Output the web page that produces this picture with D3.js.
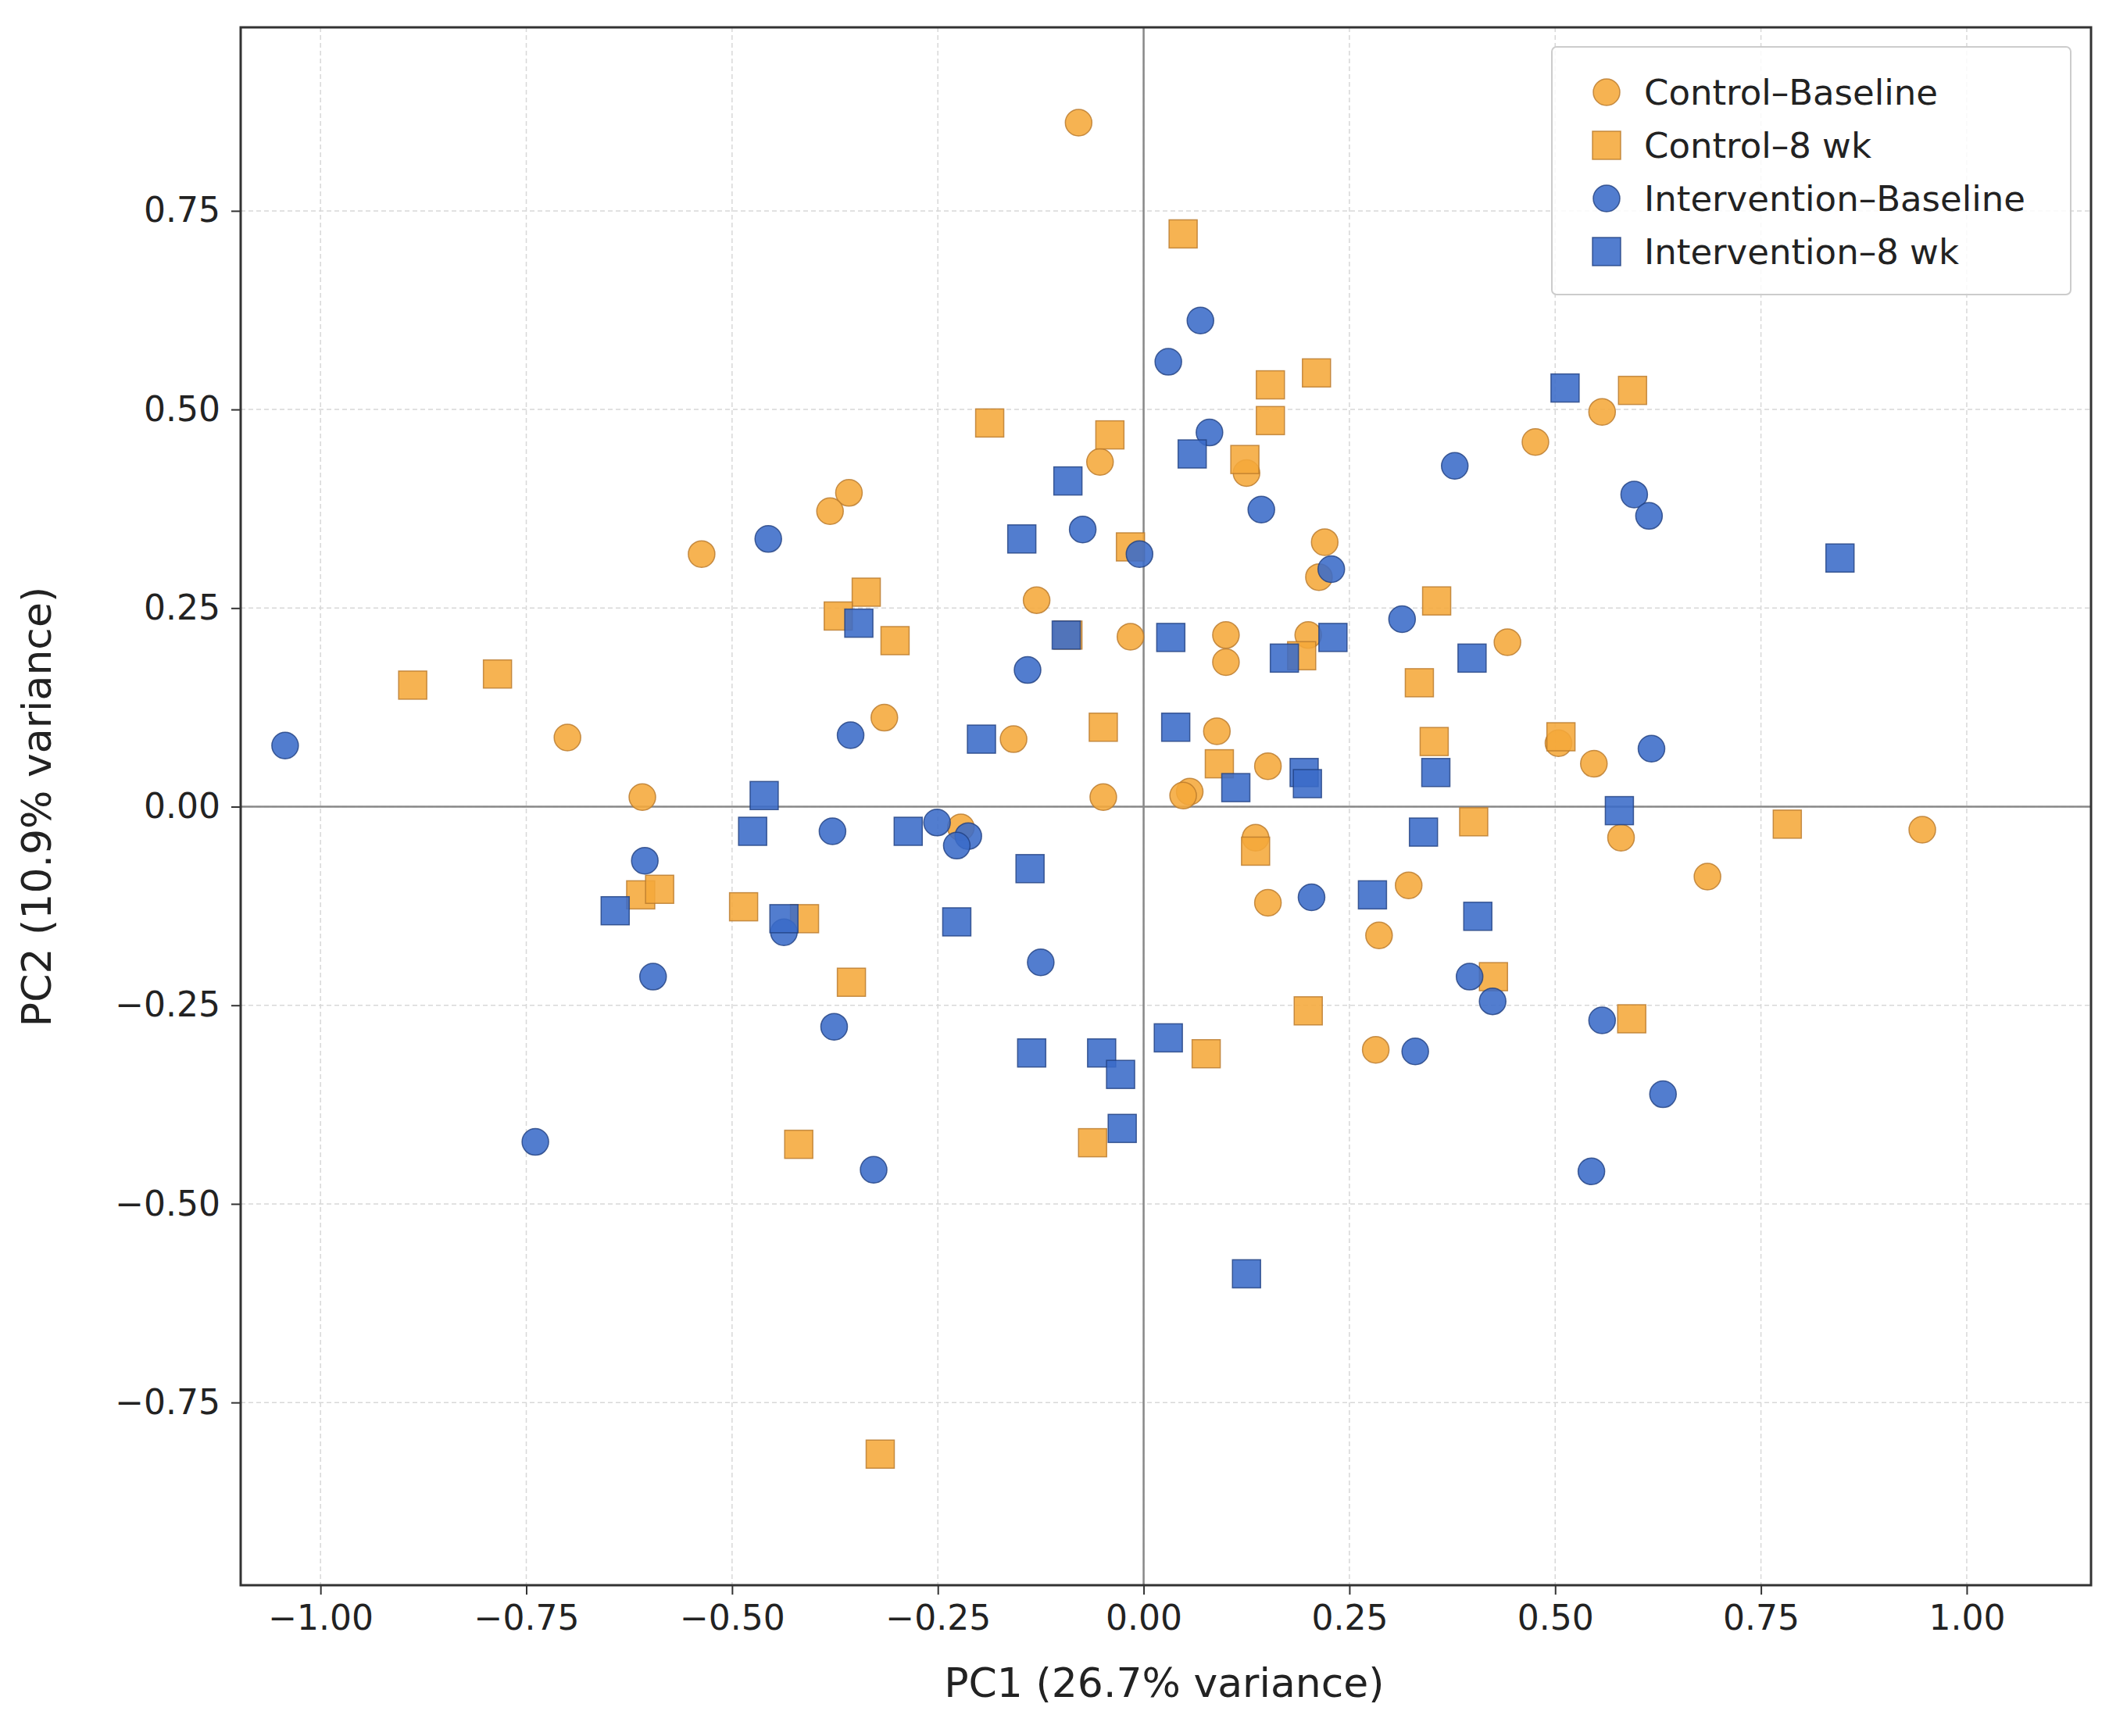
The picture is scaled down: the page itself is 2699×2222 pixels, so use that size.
<!DOCTYPE html>
<html>
<head>
<meta charset="utf-8">
<script src="https://cdn.jsdelivr.net/npm/d3@7"></script>
<style>
  body { margin: 0; background: #fff; }
  text { font-family: "DejaVu Sans", sans-serif; fill: #222; }
</style>
</head>
<body>
<div id="chart"></div>
<script>
// point values: [PC1, PC2]
var controlBaseline = [[-0.079,0.861],[0.557,0.497],[0.476,0.459],[-0.053,0.434],[0.125,0.420],[-0.358,0.395],[-0.381,0.372],[-0.537,0.318],[0.220,0.333],[0.213,0.289],[-0.130,0.260],[-0.016,0.214],[0.100,0.216],[0.200,0.216],[0.442,0.207],[0.100,0.182],[-0.315,0.112],[0.089,0.095],[-0.700,0.087],[-0.158,0.085],[0.504,0.080],[0.547,0.054],[0.151,0.051],[0.056,0.019],[0.048,0.014],[-0.049,0.012],[-0.609,0.012],[0.580,-0.039],[0.136,-0.039],[0.946,-0.029],[0.685,-0.088],[0.322,-0.099],[0.151,-0.121],[0.286,-0.162],[0.282,-0.306],[-0.222,-0.026]];
var control8wk = [[0.048,0.721],[0.210,0.546],[0.154,0.531],[0.594,0.524],[-0.187,0.483],[0.154,0.486],[-0.041,0.468],[0.123,0.437],[-0.016,0.327],[-0.337,0.270],[-0.371,0.240],[-0.302,0.209],[-0.092,0.216],[-0.888,0.153],[-0.785,0.167],[0.335,0.156],[0.356,0.259],[-0.049,0.100],[0.092,0.054],[0.507,0.088],[0.353,0.082],[0.401,-0.019],[0.782,-0.022],[0.136,-0.056],[-0.611,-0.111],[-0.588,-0.104],[-0.486,-0.126],[-0.412,-0.141],[-0.355,-0.221],[0.425,-0.214],[0.200,-0.257],[0.593,-0.267],[0.076,-0.311],[-0.419,-0.425],[-0.062,-0.423],[-0.320,-0.815],[0.192,0.190]];
var interventionBaseline = [[0.069,0.612],[0.030,0.560],[0.080,0.471],[0.378,0.429],[0.596,0.393],[0.614,0.366],[0.143,0.374],[-0.456,0.337],[-0.074,0.349],[-0.005,0.318],[0.228,0.299],[0.314,0.236],[-0.141,0.172],[-0.356,0.090],[0.617,0.073],[-1.043,0.077],[-0.378,-0.031],[-0.606,-0.068],[-0.251,-0.020],[-0.213,-0.037],[-0.227,-0.049],[-0.437,-0.158],[-0.596,-0.214],[-0.125,-0.196],[0.204,-0.114],[0.396,-0.214],[0.424,-0.245],[0.557,-0.269],[-0.376,-0.277],[0.330,-0.308],[0.631,-0.362],[-0.739,-0.422],[-0.328,-0.457],[0.544,-0.459]];
var intervention8wk = [[0.512,0.527],[0.059,0.444],[-0.092,0.410],[-0.148,0.337],[0.846,0.313],[-0.346,0.231],[-0.094,0.216],[0.033,0.213],[0.171,0.187],[0.230,0.213],[0.399,0.187],[-0.197,0.085],[0.039,0.100],[-0.461,0.014],[0.112,0.024],[0.195,0.043],[0.199,0.029],[0.355,0.043],[-0.475,-0.031],[-0.286,-0.031],[0.578,-0.005],[0.340,-0.032],[-0.642,-0.131],[-0.437,-0.141],[-0.138,-0.078],[-0.227,-0.145],[0.278,-0.111],[0.406,-0.138],[-0.136,-0.310],[-0.051,-0.310],[-0.028,-0.337],[0.030,-0.291],[-0.026,-0.405],[0.125,-0.588]];

var xTicks = [-1.00,-0.75,-0.50,-0.25,0.00,0.25,0.50,0.75,1.00];
var yTicks = [-0.75,-0.50,-0.25,0.00,0.25,0.50,0.75];

var groups = [
  {name: "Control\u2013Baseline", data: controlBaseline, color: "#f5a93a", shape: "circle"},
  {name: "Control\u20138 wk", data: control8wk, color: "#f5a93a", shape: "square"},
  {name: "Intervention\u2013Baseline", data: interventionBaseline, color: "#3a6bc8", shape: "circle"},
  {name: "Intervention\u20138 wk", data: intervention8wk, color: "#3a6bc8", shape: "square"}
];

var W = 2699, H = 2222;
var m = {left: 308, top: 35, right: 23, bottom: 193};
var w = W - m.left - m.right, h = H - m.top - m.bottom;

var svg = d3.select("#chart").append("svg").attr("width", W).attr("height", H);
var g = svg.append("g").attr("transform", "translate(" + m.left + "," + m.top + ")");

var x = d3.scaleLinear().domain([-1.097, 1.151]).range([0, w]);
var y = d3.scaleLinear().domain([-0.980, 0.981]).range([h, 0]);

// grid
g.selectAll(".gx").data(xTicks).enter().append("line")
  .attr("x1", d => x(d)).attr("x2", d => x(d)).attr("y1", 0).attr("y2", h)
  .attr("stroke", "#d8d8d8").attr("stroke-width", 1.5).attr("stroke-dasharray", "6,4");
g.selectAll(".gy").data(yTicks).enter().append("line")
  .attr("y1", d => y(d)).attr("y2", d => y(d)).attr("x1", 0).attr("x2", w)
  .attr("stroke", "#d8d8d8").attr("stroke-width", 1.5).attr("stroke-dasharray", "6,4");

// zero lines
g.append("line").attr("x1", x(0)).attr("x2", x(0)).attr("y1", 0).attr("y2", h)
  .attr("stroke", "#888").attr("stroke-width", 2.5);
g.append("line").attr("y1", y(0)).attr("y2", y(0)).attr("x1", 0).attr("x2", w)
  .attr("stroke", "#888").attr("stroke-width", 2.5);

var R = 17, S = 36;
function drawMark(sel, grp) {
  if (grp.shape === "circle") {
    sel.append("circle").attr("r", R);
  } else {
    sel.append("rect").attr("x", -S / 2).attr("y", -S / 2).attr("width", S).attr("height", S);
  }
  sel.select("*").attr("fill", grp.color).attr("fill-opacity", 0.88)
    .attr("stroke", grp.shape === "circle" && grp.color === "#3a6bc8" ? "#1f3f80" : (grp.color === "#3a6bc8" ? "#1f3f80" : "#b8782a"))
    .attr("stroke-width", 1.5).attr("stroke-opacity", 0.8);
}

groups.forEach(function(grp) {
  g.append("g").selectAll("g").data(grp.data).enter().append("g")
    .attr("transform", d => "translate(" + x(d[0]) + "," + y(d[1]) + ")")
    .each(function() { drawMark(d3.select(this), grp); });
});

// axes
var xa = g.append("g").attr("transform", "translate(0," + h + ")")
  .call(d3.axisBottom(x).tickValues(xTicks).tickFormat(d => d3.format(".2f")(d).replace("-", "\u2212")).tickSize(12).tickPadding(14));
var ya = g.append("g")
  .call(d3.axisLeft(y).tickValues(yTicks).tickFormat(d => d3.format(".2f")(d).replace("-", "\u2212")).tickSize(12).tickPadding(14));
[xa, ya].forEach(function(a) {
  a.select(".domain").remove();
  a.selectAll("line").attr("stroke", "#333").attr("stroke-width", 2);
  a.selectAll("text").style("font-size", "44px").style("font-family", "DejaVu Sans").attr("fill", "#222");
});

g.append("rect").attr("width", w).attr("height", h).attr("fill", "none")
  .attr("stroke", "#333").attr("stroke-width", 3);

svg.append("text").attr("x", m.left + x(0.025)).attr("y", H - 50).attr("text-anchor", "middle")
  .style("font-size", "52px").text("PC1 (26.7% variance)");
svg.append("text").attr("transform", "translate(65," + (m.top + y(0)) + ") rotate(-90)")
  .attr("text-anchor", "middle").style("font-size", "52px").text("PC2 (10.9% variance)");

// legend
var lg = svg.append("g").attr("transform", "translate(1986,60)");
lg.append("rect").attr("width", 664).attr("height", 317).attr("rx", 6)
  .attr("fill", "#fff").attr("fill-opacity", 0.85).attr("stroke", "#ccc").attr("stroke-width", 2);
groups.forEach(function(grp, i) {
  var row = lg.append("g").attr("transform", "translate(70," + (58 + i * 68) + ")");
  var mk = row.append("g");
  drawMark(mk, grp);
  row.append("text").attr("x", 48).attr("y", 16).style("font-size", "45px").text(grp.name);
});
</script>
</body>
</html>
